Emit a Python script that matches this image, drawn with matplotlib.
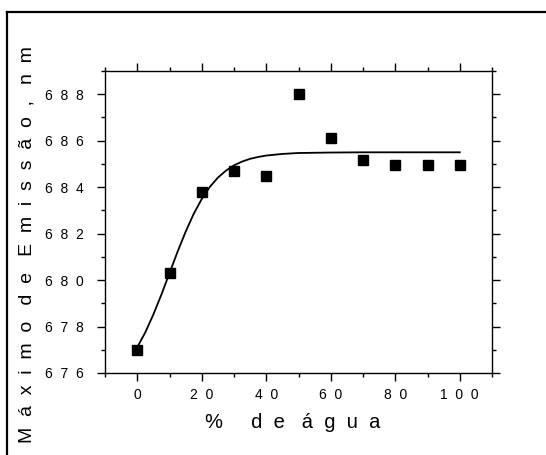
import matplotlib
matplotlib.use("Agg")
import matplotlib.pyplot as plt
from matplotlib.lines import Line2D
from matplotlib.ticker import MultipleLocator, FixedLocator

plt.rcParams['font.family'] = ['Liberation Sans', 'DejaVu Sans']

# data (% water vs emission maximum, nm)
water = [0, 10, 20, 30, 40, 50, 60, 70, 80, 90, 100]
emission = [677.0, 680.3, 683.8, 684.7, 684.5, 688.0, 686.1, 685.15, 684.95, 684.95, 684.95]

# fitted curve
fit_x = [0, 2.5, 5, 7.5, 10, 12.5, 15, 17.5, 20, 22.5, 25, 27.5, 30, 32.5, 35,
         37.5, 40, 45, 50, 55, 60, 70, 80, 90, 100]
fit_y = [677.11, 677.75, 678.52, 679.38, 680.30, 681.22, 682.08, 682.85, 683.49,
         684.01, 684.41, 684.71, 684.94, 685.10, 685.22, 685.30, 685.36, 685.43,
         685.47, 685.48, 685.49, 685.5, 685.5, 685.5, 685.5]

xticks = [0, 20, 40, 60, 80, 100]
xticklabels = ["0", "2  0", "4  0", "6  0", "8  0", "1  0  0"]
yticks = [676, 678, 680, 682, 684, 686, 688]
yticklabels = ["6  7  6", "6  7  8", "6  8  0", "6  8  2", "6  8  4", "6  8  6", "6  8  8"]

xlabel = "%     d  e   á  g  u  a"
ylabel = "M  á  x  i  m  o   d  e   E  m  i  s  s  ã  o  ,   n  m"

fig = plt.figure(figsize=(5.46, 4.55), dpi=100)
ax = fig.add_axes([105/546, 1 - 373/455, (492 - 105)/546, (373 - 71)/455])

ax.plot(fit_x, fit_y, color='black', lw=1.3, zorder=2)
ax.plot(water, emission, linestyle='none', marker='s', markersize=7,
        color='black', zorder=3)

ax.set_xlim(-10, 110)
ax.set_ylim(676, 689)

ax.xaxis.set_major_locator(FixedLocator(xticks))
ax.set_xticklabels(xticklabels)
ax.xaxis.set_minor_locator(MultipleLocator(10))
ax.yaxis.set_major_locator(FixedLocator(yticks))
ax.set_yticklabels(yticklabels)
ax.yaxis.set_minor_locator(MultipleLocator(1))

ax.tick_params(which='both', direction='out', top=True, right=True,
               labelsize=10, width=1.0)
ax.tick_params(which='major', length=6)
ax.tick_params(which='minor', length=3)
ax.tick_params(axis='x', pad=5)
ax.tick_params(axis='y', pad=9)
for sp in ax.spines.values():
    sp.set_linewidth(1.0)

fig.text(293/546, 1 - 422/455, xlabel, fontsize=14.5, ha='center', va='center')
fig.text(27/546, 1 - 245/455, ylabel, fontsize=14, ha='center', va='center',
         rotation=90)

# outer frame (left and top edges visible)
fig.add_artist(Line2D([7/546, 7/546], [0, 1 - 12/455], transform=fig.transFigure,
                      color='black', lw=1.6))
fig.add_artist(Line2D([7/546, 1], [1 - 12/455, 1 - 12/455], transform=fig.transFigure,
                      color='black', lw=1.6))

fig.savefig("out.png", dpi=100)
